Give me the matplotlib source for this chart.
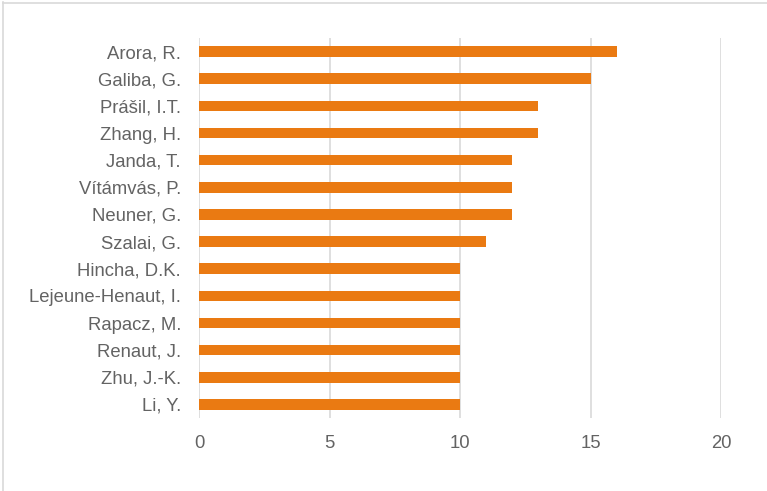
import matplotlib
matplotlib.use("Agg")
import matplotlib.pyplot as plt
from matplotlib.lines import Line2D

authors = ["Arora, R.", "Galiba, G.", "Prášil, I.T.", "Zhang, H.", "Janda, T.",
           "Vítámvás, P.", "Neuner, G.", "Szalai, G.", "Hincha, D.K.",
           "Lejeune-Henaut, I.", "Rapacz, M.", "Renaut, J.", "Zhu, J.-K.", "Li, Y."]
counts = [16, 15, 13, 13, 12, 12, 12, 11, 10, 10, 10, 10, 10, 10]
x_ticks = [0, 5, 10, 15, 20]

plt.rcParams["font.family"] = ["Liberation Sans", "DejaVu Sans"]

W, H = 767, 491
fig = plt.figure(figsize=(W / 100, H / 100), dpi=100)
ax = fig.add_axes([199 / W, 1 - 418 / H, (721 - 199) / W, (418 - 38) / H])

pos = list(range(len(authors)))
ax.barh(pos, counts, height=0.39, color="#EA7A12", zorder=3)
ax.set_yticks(pos)
ax.set_yticklabels(authors)
ax.set_ylim(len(authors) - 0.5, -0.5)
ax.set_xlim(0, 20)
ax.set_xticks(x_ticks)
ax.set_xticklabels([str(t) for t in x_ticks])

ax.grid(axis="x", color="#D9D9D9", linewidth=1.2, zorder=0)
for s in ax.spines.values():
    s.set_visible(False)
ax.tick_params(axis="both", length=0, labelsize=13.3, labelcolor="#636363")
ax.tick_params(axis="y", pad=13)
ax.tick_params(axis="x", pad=12)

# thin frame lines along the top and left of the figure
fig.add_artist(Line2D([3.5 / W, 3.5 / W], [0, 1 - 2 / H], color="#D9D9D9", lw=1.2))
fig.add_artist(Line2D([3.5 / W, 1], [1 - 2.5 / H, 1 - 2.5 / H], color="#D9D9D9", lw=1.2))

fig.savefig("out.png", dpi=100)
